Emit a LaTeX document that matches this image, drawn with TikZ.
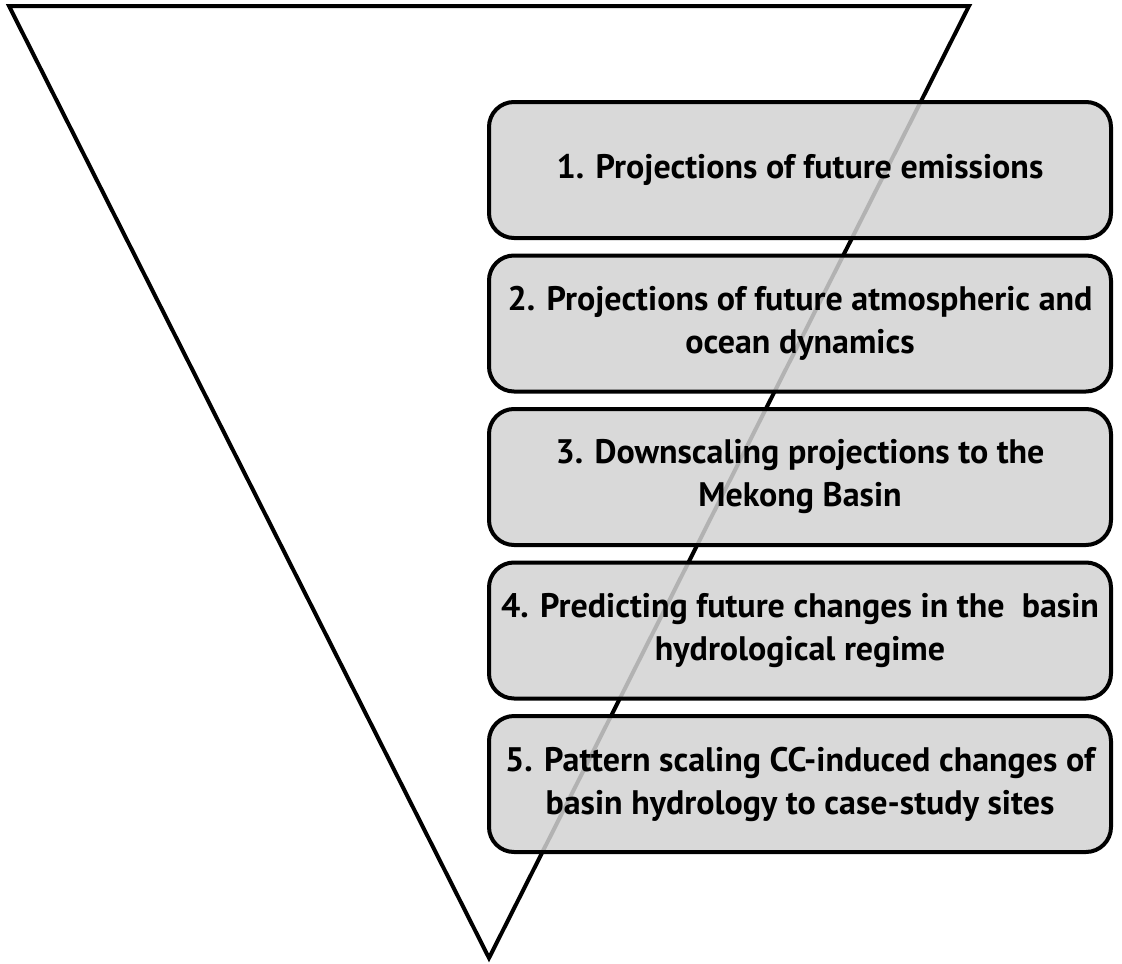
\documentclass[tikz,border=0pt]{standalone}
\usepackage{fontspec}
\setmainfont{PT Sans}
\usepackage{xcolor}
\usepackage{tikz}
\usetikzlibrary{
  positioning
}
\definecolor{stepgrey}{HTML}{D2D2D2}
\tikzset{
  stagebox/.style={
    rectangle, rounded corners=25pt, draw=black, line width=4pt,
    fill=stepgrey, fill opacity=0.85, text opacity=1,
    minimum width=622pt, minimum height=136pt, align=center,
    font=\fontsize{34}{43}\selectfont\bfseries
  },
  funnel/.style={
    draw=black, line width=4pt, line join=miter
  },
}

\begin{document}
\begin{tikzpicture}[x=1pt, y=-1pt]
  \useasboundingbox (0,0) rectangle (1122,964);

  % funnel behind the stages
  \coordinate (tl) at (9,6);
  \coordinate (tr) at (969,6);
  \coordinate (tip) at (489,958);
  \draw[funnel] (tl) -- (tr) -- (tip) -- cycle;

  \node[stagebox] (s1) at (800,170) {1. Projections of future emissions};
  \node[stagebox, below=13.5pt of s1] (s2) {2. Projections of future atmospheric and\\ocean dynamics};
  \node[stagebox, below=13.5pt of s2] (s3) {3. Downscaling projections to the\\Mekong Basin};
  \node[stagebox, below=13.5pt of s3] (s4) {4. Predicting future changes in the\ \ basin\\hydrological regime};
  \node[stagebox, below=13.5pt of s4] (s5) {5. Pattern scaling CC-induced changes of\\basin hydrology to case-study sites};
\end{tikzpicture}
\end{document}
